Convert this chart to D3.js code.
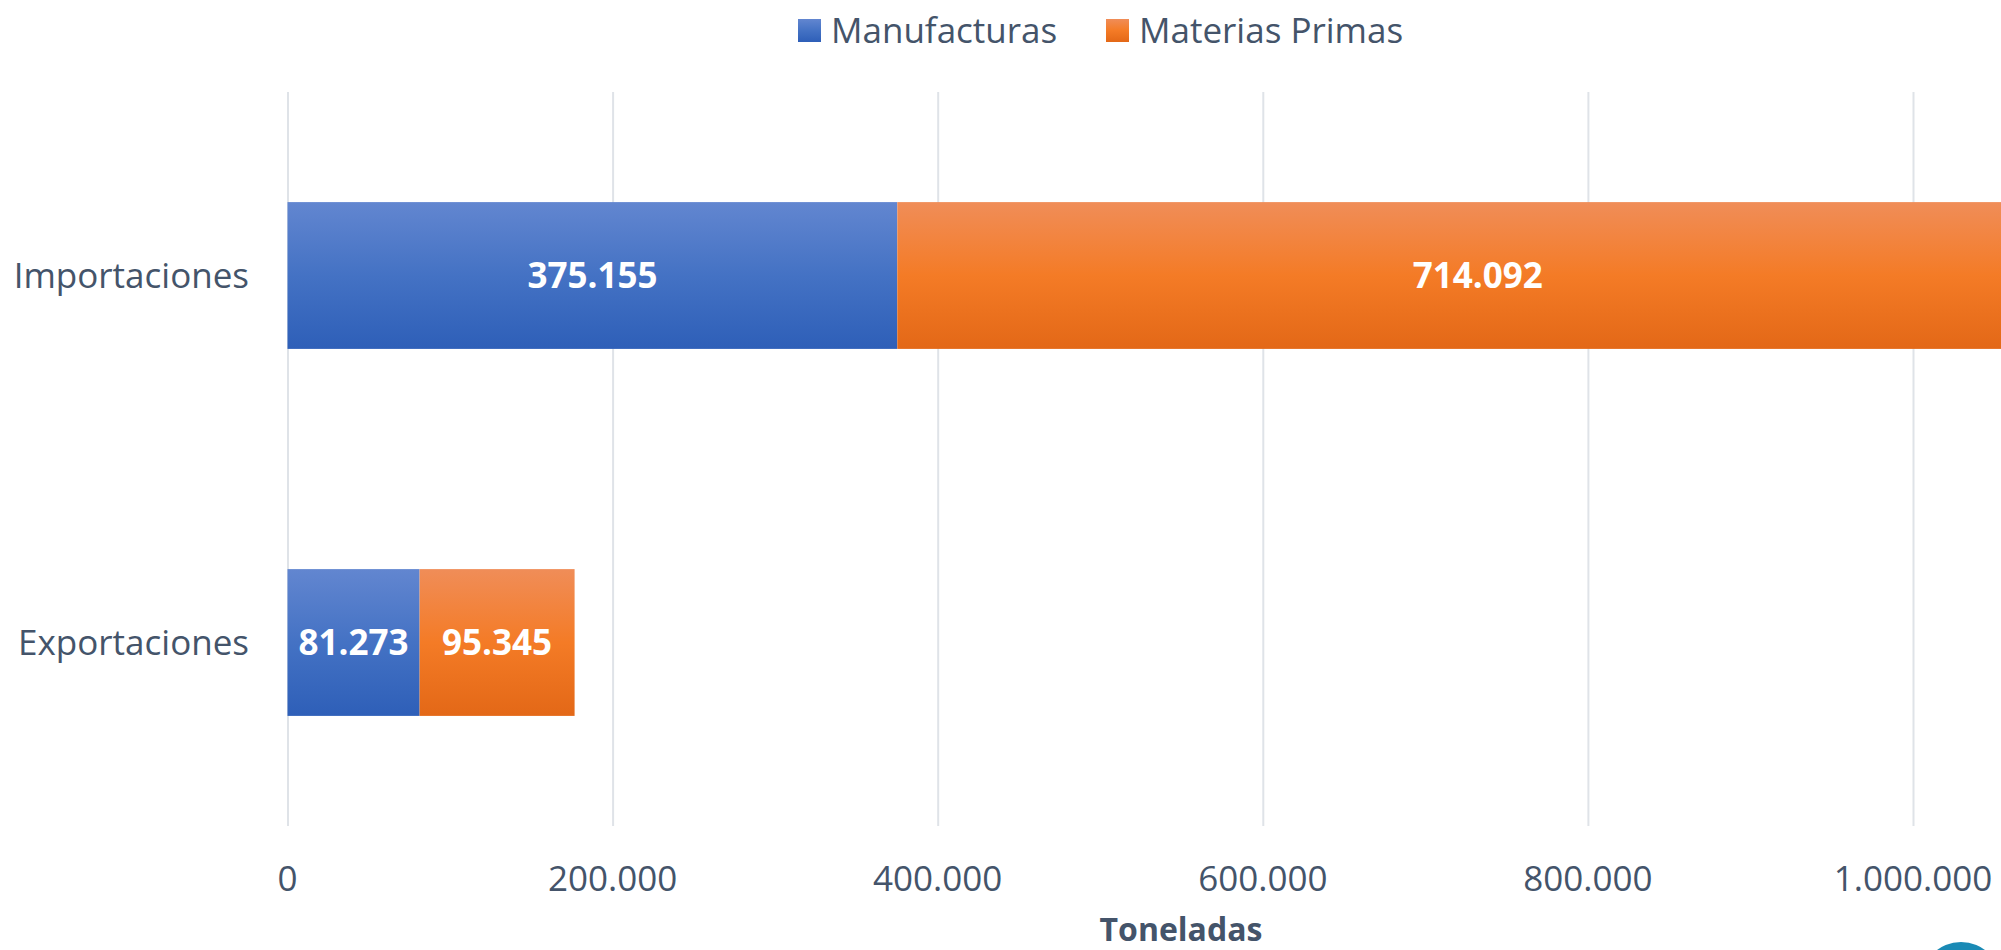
<!DOCTYPE html>
<html>
<head>
<meta charset="utf-8">
<script src="https://cdn.jsdelivr.net/npm/d3@7"></script>
<style>
  body { margin: 0; background: #fff; }
  text { font-family: "Open Sans", sans-serif; }
  .grid line { stroke: #dfe3e8; stroke-width: 2; }
  .grid .domain { display: none; }
</style>
</head>
<body>
<div id="chart"></div>
<script>
// data
var categories = ["Importaciones", "Exportaciones"];
var seriesNames = ["Manufacturas", "Materias Primas"];
var manufacturas = [375155, 81273];
var materiasPrimas = [714092, 95345];
var xTicks = [0, 200000, 400000, 600000, 800000, 1000000];
var axisTitle = "Toneladas";

var W = 2001, H = 950;
var plotTop = 92, plotBottom = 826;

// spanish number format: 1.000.000
var locale = d3.formatLocale({decimal: ",", thousands: ".", grouping: [3], currency: ["", ""]});
var fmt = locale.format(",d");

var svg = d3.select("#chart")
    .append("svg")
        .attr("width", W)
        .attr("height", H);

var x = d3.scaleLinear().domain([0, 1000000]).range([287.5, 1913]);
var y = d3.scaleBand().domain(categories).range([plotTop, plotBottom])
    .paddingInner(0.6).paddingOuter(0.3);

// gradients, lighter on top like excel
var defs = svg.append("defs");
var gradStops = [
    ["#6286d0", "#4472c4", "#2e5fb8"],
    ["#f08d58", "#f47b26", "#e36817"]
];
gradStops.forEach(function(s, i) {
    var g = defs.append("linearGradient").attr("id", "grad" + i)
        .attr("x1", 0).attr("y1", 0).attr("x2", 0).attr("y2", 1);
    g.append("stop").attr("offset", "0%").attr("stop-color", s[0]);
    g.append("stop").attr("offset", "50%").attr("stop-color", s[1]);
    g.append("stop").attr("offset", "100%").attr("stop-color", s[2]);
});

// gridlines
svg.append("g")
    .attr("class", "grid")
    .attr("transform", "translate(0," + plotBottom + ")")
    .call(d3.axisBottom(x).tickValues(xTicks).tickSize(-(plotBottom - plotTop)).tickFormat(""));

// tick labels
svg.append("g").selectAll("text")
    .data(xTicks)
    .enter().append("text")
        .attr("x", function(d) { return x(d); })
        .attr("y", 891)
        .attr("text-anchor", "middle")
        .attr("font-size", 35)
        .attr("fill", "#44546a")
        .text(function(d) { return fmt(d); });

// axis title (kept just inside the bottom edge)
svg.append("text")
    .attr("x", 1181)
    .attr("y", 941)
    .attr("text-anchor", "middle")
    .attr("font-size", 32)
    .attr("font-weight", "bold")
    .attr("fill", "#44546a")
    .text(axisTitle);

// category labels
svg.append("g").selectAll("text")
    .data(categories)
    .enter().append("text")
        .attr("x", 249)
        .attr("y", function(d) { return y(d) + y.bandwidth() / 2; })
        .attr("dy", "0.35em")
        .attr("text-anchor", "end")
        .attr("font-size", 35)
        .attr("fill", "#44546a")
        .text(function(d) { return d; });

// stacked data
var rows = categories.map(function(c, i) {
    return {cat: c, m: manufacturas[i], p: materiasPrimas[i]};
});
var stack = d3.stack().keys(["m", "p"])(rows);

var layer = svg.append("g").selectAll("g")
    .data(stack)
    .enter().append("g")
        .attr("fill", function(d, i) { return "url(#grad" + i + ")"; });

layer.selectAll("rect")
    .data(function(d) { return d; })
    .enter().append("rect")
        .attr("x", function(d) { return x(d[0]); })
        .attr("y", function(d) { return y(d.data.cat); })
        .attr("width", function(d) { return x(d[1]) - x(d[0]); })
        .attr("height", y.bandwidth());

// value labels, centred in each segment
layer.selectAll("text")
    .data(function(d) { return d; })
    .enter().append("text")
        .attr("x", function(d) { return (x(d[0]) + x(d[1])) / 2; })
        .attr("y", function(d) { return y(d.data.cat) + y.bandwidth() / 2; })
        .attr("dy", "0.35em")
        .attr("text-anchor", "middle")
        .attr("font-size", 35)
        .attr("font-weight", "bold")
        .attr("fill", "#fff")
        .text(function(d) { return fmt(d[1] - d[0]); });

// legend
var legendX = [798, 1106];
var legend = svg.append("g").selectAll("g")
    .data(seriesNames)
    .enter().append("g")
        .attr("transform", function(d, i) { return "translate(" + legendX[i] + ",19)"; });
legend.append("rect")
    .attr("width", 23)
    .attr("height", 23)
    .attr("fill", function(d, i) { return "url(#grad" + i + ")"; });
legend.append("text")
    .attr("x", 33)
    .attr("y", 24)
    .attr("font-size", 35)
    .attr("fill", "#44546a")
    .text(function(d) { return d; });

// corner logo fragment
svg.append("circle")
    .attr("cx", 1961)
    .attr("cy", 982)
    .attr("r", 40)
    .attr("fill", "#1a8ab5");
</script>
</body>
</html>
